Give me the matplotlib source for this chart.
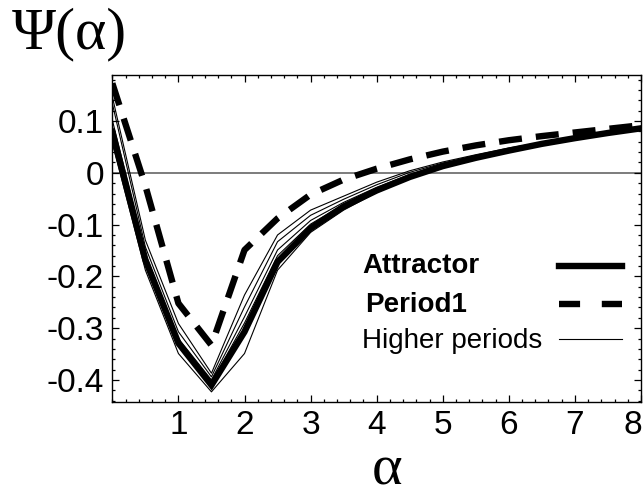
import matplotlib
matplotlib.use("Agg")
import matplotlib.pyplot as plt
from matplotlib.ticker import MultipleLocator, FuncFormatter
from matplotlib.lines import Line2D
import matplotlib.transforms as mtransforms

plt.rcParams['font.family'] = ['Liberation Sans', 'DejaVu Sans']
plt.rcParams['axes.unicode_minus'] = False

# sampling points in alpha
alpha = [0, 0.5, 1, 1.5, 2, 2.5, 3, 3.5, 4, 4.5, 5, 5.5, 6, 6.5, 7, 7.5, 8]

# spectrum of the attractor
psi_attractor = [0.079, -0.168, -0.329, -0.410, -0.307, -0.172, -0.107, -0.065,
                 -0.034, -0.008, 0.013, 0.029, 0.043, 0.056, 0.067, 0.077, 0.086]

# period-1 orbit
psi_period1 = [0.173, -0.025, -0.252, -0.333, -0.149, -0.088, -0.042, -0.013,
               0.008, 0.026, 0.041, 0.053, 0.063, 0.071, 0.078, 0.085, 0.092]

# higher period orbits
psi_higher = [
    [0.147, -0.130, -0.291, -0.387, -0.236, -0.120, -0.072, -0.045,
     -0.018, 0.004, 0.021, 0.035, 0.048, 0.059, 0.070, 0.079, 0.087],
    [0.134, -0.143, -0.307, -0.394, -0.259, -0.133, -0.082, -0.051,
     -0.023, 0.001, 0.019, 0.033, 0.047, 0.058, 0.069, 0.078, 0.087],
    [0.102, -0.156, -0.320, -0.400, -0.278, -0.149, -0.092, -0.057,
     -0.028, -0.003, 0.016, 0.031, 0.045, 0.057, 0.068, 0.078, 0.086],
    [0.090, -0.160, -0.325, -0.405, -0.290, -0.160, -0.099, -0.061,
     -0.031, -0.006, 0.014, 0.030, 0.044, 0.056, 0.067, 0.077, 0.086],
    [0.057, -0.188, -0.349, -0.423, -0.349, -0.188, -0.115, -0.072,
     -0.038, -0.011, 0.011, 0.027, 0.042, 0.055, 0.066, 0.076, 0.085],
]

xticks = [1, 2, 3, 4, 5, 6, 7, 8]
yticks = [-0.4, -0.3, -0.2, -0.1, 0, 0.1]

W, H = 643, 498
fig = plt.figure(figsize=(W / 100, H / 100), dpi=100)
ax = fig.add_axes([0.1747, 0.1934, 0.8222, 0.656])

ax.axhline(0, color='#666666', lw=1.2, zorder=1)

thin = dict(color='black', lw=0.8)
thick = dict(color='black', lw=4.6, solid_joinstyle='miter')
dashed = dict(color='black', lw=4.6, dashes=(3.6, 2.2), dash_capstyle='butt')

for h in psi_higher:
    ax.plot(alpha, h, zorder=2, **thin)
ax.plot(alpha, psi_attractor, zorder=3, **thick)
ax.plot(alpha, psi_period1, zorder=4, **dashed)

ax.set_xlim(0, 8)
ax.set_ylim(-0.442, 0.189)
ax.set_xticks(xticks)
ax.set_yticks(yticks)
ax.xaxis.set_minor_locator(MultipleLocator(0.2))
ax.yaxis.set_minor_locator(MultipleLocator(0.02))
ax.yaxis.set_major_formatter(FuncFormatter(lambda v, p: '%g' % round(v, 2)))

ax.tick_params(which='both', direction='in', top=True, right=True,
               labelsize=24, width=0.9)
ax.tick_params(which='major', length=5, pad=6)
ax.tick_params(which='minor', length=2.5)
for s in ax.spines.values():
    s.set_linewidth(1.0)

# keep the last x label inside the figure
lab8 = ax.get_xticklabels()[-1]
lab8.set_transform(lab8.get_transform() +
                   mtransforms.ScaledTranslation(-8 / 100, 0, fig.dpi_scale_trans))

# key: labels left-aligned, line samples on the right
key_dashed = dict(dashed, dashes=(3.3, 3.4))
key = [('Attractor', 'bold', 362, 273, 266, thick),
       ('Period1', 'bold', 365, 312, 304, key_dashed),
       ('Higher periods', 'normal', 362, 348, 339, thin)]
for name, weight, tx, ty, ly, style in key:
    fig.text(tx / W, 1 - ty / H, name, fontsize=20, fontweight=weight,
             va='baseline', ha='left')
    fig.add_artist(Line2D([559 / W, 622 / W], [1 - ly / H, 1 - ly / H],
                          transform=fig.transFigure, **style))

fig.text(12 / W, 1 - 48 / H, 'Ψ(α)', family='Liberation Serif',
         fontsize=43, va='baseline', ha='left')
fig.text(387 / W, 1 - 484 / H, 'α', family='Liberation Serif',
         fontsize=42, va='baseline', ha='center')

fig.savefig('out.png', dpi=100)
